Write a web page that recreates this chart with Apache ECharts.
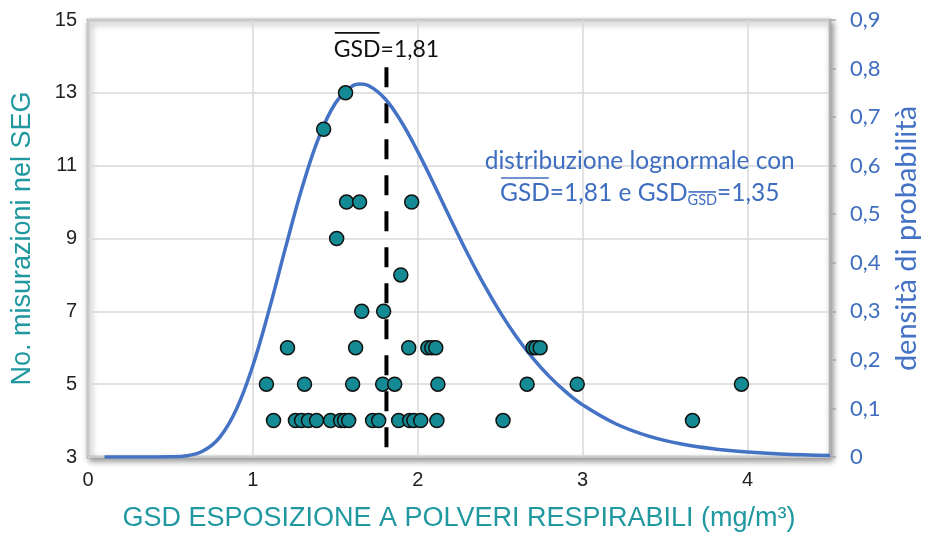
<!DOCTYPE html>
<html><head><meta charset="utf-8">
<script src="https://cdn.jsdelivr.net/npm/echarts@6/dist/echarts.min.js"></script>
<style>html,body{margin:0;padding:0;background:#fff}#c{width:929px;height:537px}</style>
</head><body><div id="c"></div>
<script>
// ---- data ----
const xTickLabels = [0, 1, 2, 3, 4];
const yLeftTickLabels = [3, 5, 7, 9, 11, 13, 15];
const yRightTickLabels = ['0', '0,1', '0,2', '0,3', '0,4', '0,5', '0,6', '0,7', '0,8', '0,9'];

// measured GSD values, grouped by number of measurements in the SEG
const gsdN4 = [1.125, 1.258, 1.295, 1.337, 1.386, 1.471, 1.532, 1.556, 1.581, 1.726, 1.763, 1.884, 1.951, 1.976, 2.018, 2.116, 2.517, 3.666];
const gsdN5 = [1.082, 1.313, 1.605, 1.787, 1.860, 2.122, 2.663, 2.967, 3.963];
const gsdN6 = [1.210, 1.623, 1.945, 2.061, 2.085, 2.109, 2.699, 2.717, 2.742];
const gsdN7 = [1.660, 1.793];
const gsdN8 = [1.897];
const gsdN9 = [1.508];
const gsdN10 = [1.568, 1.647, 1.963];
const gsdN12 = [1.429];
const gsdN13 = [1.562];

// lognormal density curve (right axis)
const curveX = [0.1, 0.2, 0.3, 0.4, 0.5, 0.6, 0.7, 0.8, 0.9, 1.0, 1.1, 1.2, 1.3, 1.4, 1.5, 1.6, 1.65, 1.7, 1.8, 1.9, 2.0, 2.1, 2.2, 2.3, 2.4, 2.5, 2.6, 2.7, 2.8, 2.9, 3.0, 3.2, 3.4, 3.6, 3.8, 4.0, 4.2, 4.5];
const curveY = [0, 0, 0, 0, 0.0003, 0.0025, 0.0127, 0.0411, 0.0983, 0.1884, 0.305, 0.4337, 0.5566, 0.6583, 0.7286, 0.7635, 0.7682, 0.7651, 0.7384, 0.6905, 0.6289, 0.56, 0.4891, 0.4202, 0.356, 0.298, 0.2468, 0.2026, 0.165, 0.1335, 0.1074, 0.0685, 0.043, 0.0267, 0.0165, 0.0101, 0.0062, 0.003];

const meanGSD = 1.81;
const meanLineY = [13.7, 3];
const meanLabel = ['GSD', '=1,81'];
const noteLine1 = 'distribuzione lognormale con';
const noteLine2 = ['GSD', '=1,81 e GSD', 'GSD', '=1,35'];

// ---- build ----
const groups = [[4, gsdN4], [5, gsdN5], [6, gsdN6], [7, gsdN7], [8, gsdN8], [9, gsdN9], [10, gsdN10], [12, gsdN12], [13, gsdN13]];
const scatterData = [];
groups.forEach(([n, arr]) => arr.forEach(v => scatterData.push([v, n])));
const curveData = curveX.map((x, i) => [x, curveY[i]]);
const meanData = meanLineY.map(y => [meanGSD, y]);

const chart = echarts.init(document.getElementById('c'), null, {renderer: 'canvas'});
const gridLine = {show: true, lineStyle: {color: '#d9d9d9', width: 1.5}};

chart.setOption({
  animation: false,
  backgroundColor: '#fff',
  grid: {left: 88, right: 99, top: 20, bottom: 77, show: true, backgroundColor: '#fff',
    borderColor: '#a0a0a0', borderWidth: 2.5, shadowColor: 'rgba(0,0,0,0.4)', shadowBlur: 6, shadowOffsetX: 2, shadowOffsetY: 3},
  xAxis: {
    type: 'value', min: 0, max: 4.5, interval: 1,
    axisLine: {show: false}, axisTick: {show: false}, splitLine: gridLine,
    axisLabel: {fontFamily: 'Liberation Sans', fontSize: 20, color: '#222', margin: 13,
      formatter: v => xTickLabels.includes(v) ? String(v) : ''},
    name: 'GSD ESPOSIZIONE A POLVERI RESPIRABILI (mg/m³)', nameLocation: 'middle', nameGap: 48,
    nameTextStyle: {fontFamily: 'Liberation Sans', fontSize: 27, color: '#1f98a0'}
  },
  yAxis: [{
    type: 'value', min: 3, max: 15, interval: 2,
    axisLine: {show: false}, axisTick: {show: false}, splitLine: gridLine,
    axisLabel: {fontFamily: 'Liberation Sans', fontSize: 20, color: '#222', margin: 11,
      formatter: v => yLeftTickLabels.includes(v) ? String(v) : ''},
    name: 'No. misurazioni nel SEG', nameLocation: 'middle', nameGap: 52, nameRotate: 90,
    nameTextStyle: {fontFamily: 'Liberation Sans', fontSize: 27, color: '#1f98a0'}
  }, {
    type: 'value', min: 0, max: 0.9, interval: 0.1, position: 'right',
    axisLine: {show: true, lineStyle: {color: '#a8a8a8', width: 1.5}},
    axisTick: {show: true, inside: false, length: 6, lineStyle: {color: '#a8a8a8', width: 1.5}},
    splitLine: {show: false},
    axisLabel: {fontFamily: 'Lato', fontSize: 22, color: '#3f6ec0', margin: 20,
      formatter: v => yRightTickLabels[Math.round(v * 10)]},
    name: 'densità di probabilità', nameLocation: 'middle', nameGap: 62, nameRotate: 90,
    nameTextStyle: {fontFamily: 'Lato', fontSize: 29, color: '#4472c4'}
  }],
  series: [{
    type: 'line', data: meanData, yAxisIndex: 0, symbol: 'none', silent: true, z: 2,
    lineStyle: {color: '#000', width: 4, type: [20, 16]}
  }, {
    type: 'line', data: curveData, yAxisIndex: 1, symbol: 'none', smooth: 0.4, silent: true, z: 3,
    lineStyle: {color: '#4472c4', width: 3.5}
  }, {
    type: 'scatter', data: scatterData, yAxisIndex: 0, symbol: 'circle', symbolSize: 14, z: 4,
    itemStyle: {color: '#148a94', borderColor: '#111', borderWidth: 1.5, opacity: 1}
  }]
});

// ---- annotations (text with overline / subscript) ----
const mctx = document.createElement('canvas').getContext('2d');
function measure(t, font) { mctx.font = font; return mctx.measureText(t).width; }
function buildLine(cx, cy, pieces, color, out) {
  let total = 0;
  pieces.forEach(p => { p.font = p.size + 'px Lato'; p.w = measure(p.t, p.font); total += p.w; });
  let x = cx - total / 2;
  pieces.forEach(p => {
    const y = cy + (p.dy || 0);
    out.push({type: 'text', x: x, y: y, silent: true, z: 10,
      style: {text: p.t, font: p.font, fill: color, align: 'left', verticalAlign: 'middle', textAlign: 'left', textVerticalAlign: 'middle'}});
    if (p.ol) out.push({type: 'line', silent: true, z: 10,
      shape: {x1: x + 1, y1: y - p.olGap, x2: x + p.w - 1, y2: y - p.olGap},
      style: {stroke: color, lineWidth: 1.6}});
    x += p.w;
  });
}
const els = [];
const lblPos = chart.convertToPixel({xAxisIndex: 0, yAxisIndex: 0}, [meanGSD, 14.18]);
buildLine(lblPos[0], lblPos[1], [
  {t: meanLabel[0], size: 23, ol: true, olGap: 17},
  {t: meanLabel[1], size: 23}
], '#111', els);
const notePos = chart.convertToPixel({xAxisIndex: 0, yAxisIndex: 0}, [3.346, 11.13]);
buildLine(notePos[0], notePos[1], [{t: noteLine1, size: 24.5}], '#3f6ec0', els);
buildLine(notePos[0], notePos[1] + 32, [
  {t: noteLine2[0], size: 24.5, ol: true, olGap: 15},
  {t: noteLine2[1], size: 24.5},
  {t: noteLine2[2], size: 14.5, dy: 7, ol: true, olGap: 8},
  {t: noteLine2[3], size: 24.5}
], '#3f6ec0', els);
chart.setOption({graphic: {elements: els}});
</script></body></html>
